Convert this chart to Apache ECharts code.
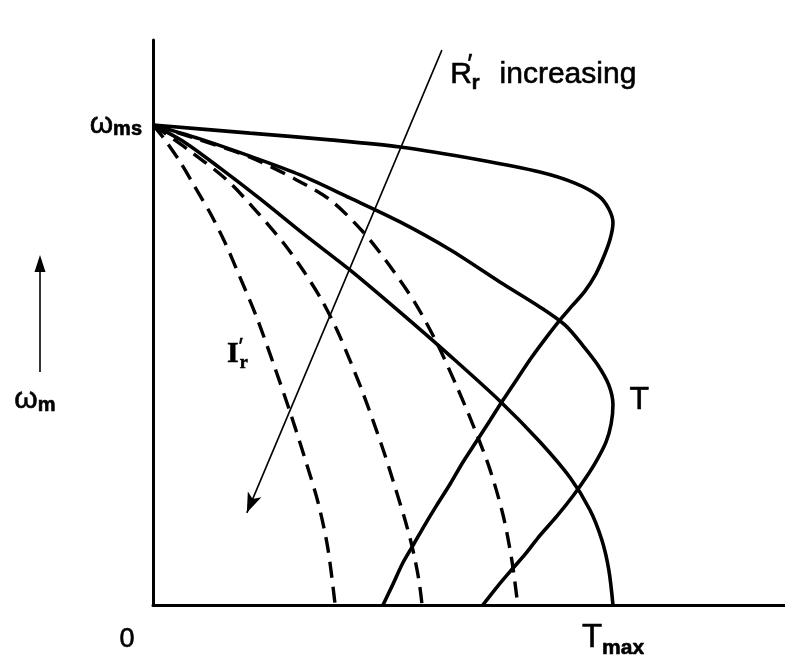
<!DOCTYPE html>
<html>
<head>
<meta charset="utf-8">
<script src="https://cdn.jsdelivr.net/npm/echarts@6/dist/echarts.min.js"></script>
<style>
  html, body { margin: 0; padding: 0; background: #fff; }
  #chart { width: 785px; height: 660px; }
</style>
</head>
<body>
<div id="chart"></div>
<script>
// Induction motor: torque T and rotor current I'r against speed ωm,
// for three values of rotor resistance R'r.
// x: torque (or current) in % of Tmax, y: speed in % of ωms.

const torqueLowR = [[0,100],[21.1,98.3],[38.5,96.9],[53.7,95.4],[71.1,92.7],[84.1,90.2],[91.7,87.9],[96.9,85.2],[99.1,82.5],[100,79.6],[99.4,76.3],[98.1,72.8],[96.3,69.0],[93.9,65.4],[91.1,62.3],[88.5,59.4],[85.4,55.6],[82.4,51.7],[79.3,47.3],[76.1,42.7],[73.3,38.5],[70.4,34.2],[67.4,29.8],[64.6,25.2],[61.7,20.8],[59.1,16.7],[56.7,12.7],[54.3,8.75],[52.2,4.4],[50.0,0]];
const torqueMidR = [[0,100],[10.2,97.1],[21.1,93.5],[32.0,89.6],[42.8,84.8],[53.7,79.8],[64.6,74.0],[75.4,67.3],[84.1,62.1],[89.6,58.3],[93.5,54.0],[96.7,50.0],[99.1,45.8],[100,41.7],[99.6,37.7],[98.5,34.0],[96.5,30.2],[94.1,26.5],[91.3,22.7],[87.8,18.5],[83.7,14.0],[81.1,10.8],[78.3,7.7],[75.0,4.0],[71.7,0]];
const torqueHighR = [[0,100],[7.0,96.3],[14.6,91.0],[23.3,84.6],[33.0,77.1],[42.8,69.8],[53.7,61.0],[64.6,51.9],[75.4,42.5],[84.1,34.0],[90.7,26.5],[95.0,19.8],[97.6,13.5],[99.1,7.3],[100,0]];

const currentHighR = [[0,100],[2.6,96.9],[5.9,92.3],[9.1,87.1],[12.4,81.7],[15.7,75.4],[18.9,68.3],[22.6,59.8],[26.5,49.4],[29.8,40.2],[33.0,30.6],[35.9,21.3],[38.0,11.9],[39.6,0]];
const currentMidR = [[0,100],[8.0,94.6],[16.1,88.5],[22.6,81.9],[28.7,75.0],[33.0,69.2],[36.7,63.5],[40.0,57.3],[42.8,51.0],[45.4,44.8],[47.8,38.5],[50.4,31.3],[52.8,24.0],[54.8,17.7],[56.5,11.5],[57.8,5.2],[58.5,0]];
const currentLowR = [[0,100],[10.2,96.9],[21.1,93.3],[31.3,88.5],[38.5,84.4],[45.7,77.7],[51.5,70.6],[57.0,62.9],[61.7,54.6],[66.1,45.4],[70.0,36.5],[73.3,28.1],[76.1,18.75],[78.0,9.4],[79.3,0]];

// direction of increasing R'r
const resistanceArrow = [[62.8,115.6],[20.4,19.2]];

// label anchors
const resistanceLabelAt = [64.6,110.4];
const resistancePrimeAt = [68.9,112.5];
const torqueLabelAt = [105.7,42.7];
const currentLabelAt = [16.1,52.3];

const xMax = 137.4, yMax = 117.7;

const SANS = '"Liberation Sans", Arial, sans-serif';
const SERIF = '"Liberation Serif", "DejaVu Serif", serif';
const INK = { color: '#000', textBorderColor: '#000', textBorderWidth: 0.6 };

function solid(data) {
  return { type: 'line', data, smooth: 0.3, showSymbol: false, silent: true,
    lineStyle: { color: '#000', width: 3.6 }, z: 3 };
}
function dashed(data) {
  return { type: 'line', data, smooth: 0.3, showSymbol: false, silent: true,
    lineStyle: { color: '#000', width: 3.4, type: [16, 9] }, z: 3 };
}

const chart = echarts.init(document.getElementById('chart'), null, { renderer: 'canvas' });

chart.setOption({
  backgroundColor: '#fff',
  animation: false,
  grid: { left: 153, right: 0, top: 40, bottom: 55, containLabel: false },
  xAxis: {
    type: 'value', min: 0, max: xMax, interval: 100,
    axisLine: { lineStyle: { color: '#000', width: 3 } },
    axisTick: { show: false }, splitLine: { show: false },
    axisLabel: {
      margin: 11, showMaxLabel: false, color: '#000', fontFamily: SANS,
      formatter: v => v === 0 ? '{z|0}' : (v === 100 ? '{t|T}{m|max}' : ''),
      rich: {
        z: Object.assign({ fontSize: 27, fontFamily: SANS, padding: [10, 52, 0, 0] }, INK),
        t: Object.assign({ fontSize: 33, fontFamily: SANS }, INK),
        m: Object.assign({ fontSize: 21, fontFamily: SANS, fontWeight: 'bold', padding: [22, 0, 0, 0] }, INK)
      }
    }
  },
  yAxis: {
    type: 'value', min: 0, max: yMax, interval: 100,
    axisLine: { lineStyle: { color: '#000', width: 3 } },
    axisTick: { show: false }, splitLine: { show: false },
    axisLabel: {
      margin: 11, showMaxLabel: false, color: '#000',
      formatter: v => v === 100 ? '{w|ω}{s|ms}' : '',
      rich: {
        w: Object.assign({ fontSize: 30, fontFamily: SANS }, INK),
        s: Object.assign({ fontSize: 20, fontFamily: SANS, fontWeight: 'bold', padding: [10, 0, 0, 0] }, INK)
      }
    }
  },
  graphic: [
    { type: 'line', shape: { x1: 40, y1: 372, x2: 40, y2: 268 },
      style: { stroke: '#000', lineWidth: 1.6 } },
    { type: 'polygon', shape: { points: [[34.5, 272], [45.5, 272], [40, 255]] },
      style: { fill: '#000' } },
    { type: 'text', left: 14, top: 384,
      style: { text: '{a|ω}{b|m}', rich: {
        a: { fontSize: 30, fontFamily: SANS, fill: '#000', stroke: '#000', lineWidth: 0.6 },
        b: { fontSize: 20, fontFamily: SANS, fill: '#000', stroke: '#000', lineWidth: 0.6, fontWeight: 'bold', padding: [12, 0, 0, 0] }
      } } }
  ],
  series: [
    solid(torqueLowR), solid(torqueMidR), solid(torqueHighR),
    dashed(currentHighR), dashed(currentMidR), dashed(currentLowR),
    {
      type: 'line', data: [], silent: true,
      markLine: {
        silent: true, symbol: ['none', 'arrow'], symbolSize: [11, 20],
        label: { show: false },
        lineStyle: { color: '#000', width: 1.6, type: 'solid' },
        data: [[{ coord: resistanceArrow[0] }, { coord: resistanceArrow[1] }]]
      },
      markPoint: {
        silent: true, symbol: 'circle', symbolSize: 0,
        data: [
          { coord: resistanceLabelAt, label: { show: true, position: 'right', distance: 0,
              formatter: '{r|R}{s|r}{g|increasing}',
              rich: {
                r: Object.assign({ fontSize: 30, fontFamily: SANS }, INK),
                s: Object.assign({ fontSize: 20, fontFamily: SANS, fontWeight: 'bold', padding: [16, 0, 0, 0] }, INK),
                g: Object.assign({ fontSize: 30, fontFamily: SANS, padding: [0, 0, 0, 20] }, INK)
              } } },
          { coord: resistancePrimeAt, label: Object.assign({ show: true, position: 'inside',
              formatter: '′', fontSize: 26, fontFamily: SANS }, INK) },
          { coord: torqueLabelAt, label: Object.assign({ show: true, position: 'inside',
              formatter: 'T', fontSize: 32, fontFamily: SANS }, INK) },
          { coord: currentLabelAt, label: { show: true, position: 'right', distance: 0,
              formatter: '{i|I}{p|′}{s|r}',
              rich: {
                i: Object.assign({ fontSize: 30, fontFamily: SERIF, fontWeight: 'bold' }, INK),
                p: Object.assign({ fontSize: 22, fontFamily: SANS, width: 1, padding: [0, 0, 14, 0] }, INK),
                s: Object.assign({ fontSize: 18, fontFamily: SERIF, fontWeight: 'bold', padding: [18, 0, 0, 0] }, INK)
              } } }
        ]
      }
    }
  ]
});
</script>
</body>
</html>
